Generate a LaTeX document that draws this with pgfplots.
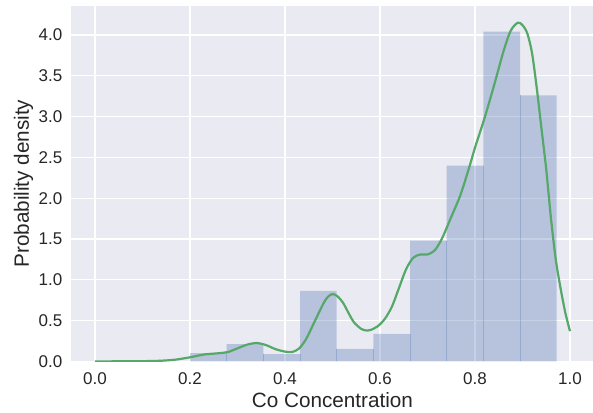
\documentclass[border=0pt]{standalone}
\usepackage{pgfplots}
\pgfplotsset{compat=1.18}
\usepackage{fontspec}
\setmainfont{Liberation Sans}
\definecolor{bg}{HTML}{EAEAF2}
\definecolor{sbblue}{HTML}{4C72B0}
\definecolor{sbgreen}{HTML}{55A868}
\definecolor{txt}{HTML}{262626}
\begin{document}
\begin{tikzpicture}
\begin{axis}[
  scale only axis, width=522.5pt, height=355.4pt,
  xmin=-0.05, xmax=1.05, ymin=0, ymax=4.355,
  axis background/.style={fill=bg},
  axis line style={draw=none},
  major tick length=0pt,
  grid=major, major grid style={white, line width=1.1pt},
  xtick={0,0.2,0.4,0.6,0.8,1.0},
  xticklabels={0.0,0.2,0.4,0.6,0.8,1.0},
  ytick={0,0.5,1,1.5,2,2.5,3,3.5,4},
  yticklabels={0.0,0.5,1.0,1.5,2.0,2.5,3.0,3.5,4.0},
  tick label style={font=\fontsize{17}{20}\selectfont, text=txt},
  xticklabel style={anchor=north, inner sep=0pt, yshift=-10.6pt},
  yticklabel style={anchor=east, inner sep=0pt, xshift=-8.7pt},
  xlabel={Co Concentration}, ylabel={Probability density},
  label style={font=\fontsize{20.7}{24}\selectfont, text=txt},
  xlabel style={at={(axis description cs:0.5,-0.1306)}, anchor=base},
  ylabel style={at={(axis description cs:-0.0813,0.5)}, anchor=base},
]
\addplot[ybar interval, fill=sbblue, fill opacity=0.32, draw=none] coordinates {
(0.2,0.10) (0.2772,0.213) (0.3544,0.09) (0.4316,0.863) (0.5088,0.152)
(0.586,0.336) (0.6632,1.48) (0.7404,2.40) (0.8176,4.04) (0.8948,3.26) (0.972,3.26)};
\addplot[ycomb, draw=sbblue, draw opacity=0.3, line width=0.7pt, mark=none] coordinates {
(0.2772,0.10) (0.3544,0.09) (0.4316,0.09) (0.5088,0.152) (0.586,0.152)
(0.6632,0.336) (0.7404,1.48) (0.8176,2.40) (0.8948,3.26)};
\addplot[sbgreen, line width=2.2pt, smooth, mark=none] table {
x y
0.00 0.000
0.05 0.001
0.10 0.003
0.13 0.006
0.15 0.012
0.17 0.022
0.20 0.050
0.23 0.085
0.26 0.100
0.28 0.115
0.30 0.160
0.32 0.205
0.34 0.225
0.36 0.200
0.38 0.150
0.40 0.120
0.415 0.115
0.43 0.160
0.445 0.280
0.46 0.460
0.48 0.700
0.49 0.790
0.50 0.825
0.51 0.800
0.522 0.720
0.535 0.580
0.545 0.480
0.56 0.400
0.57 0.380
0.58 0.385
0.595 0.430
0.61 0.520
0.625 0.670
0.64 0.900
0.655 1.130
0.67 1.270
0.685 1.310
0.70 1.310
0.715 1.360
0.73 1.500
0.75 1.770
0.77 2.050
0.79 2.420
0.80 2.620
0.82 2.980
0.84 3.380
0.86 3.800
0.875 4.050
0.89 4.150
0.90 4.120
0.91 4.020
0.92 3.780
0.93 3.350
0.94 2.850
0.95 2.350
0.96 1.750
0.97 1.250
0.98 0.900
0.99 0.600
1.00 0.370
};
\end{axis}
\pgfresetboundingbox
\path ([shift={(-71.25pt,-50.6pt)}]current axis.south west) rectangle ([shift={(-0.75pt,6pt)}]current axis.north east);
\end{tikzpicture}
\end{document}
